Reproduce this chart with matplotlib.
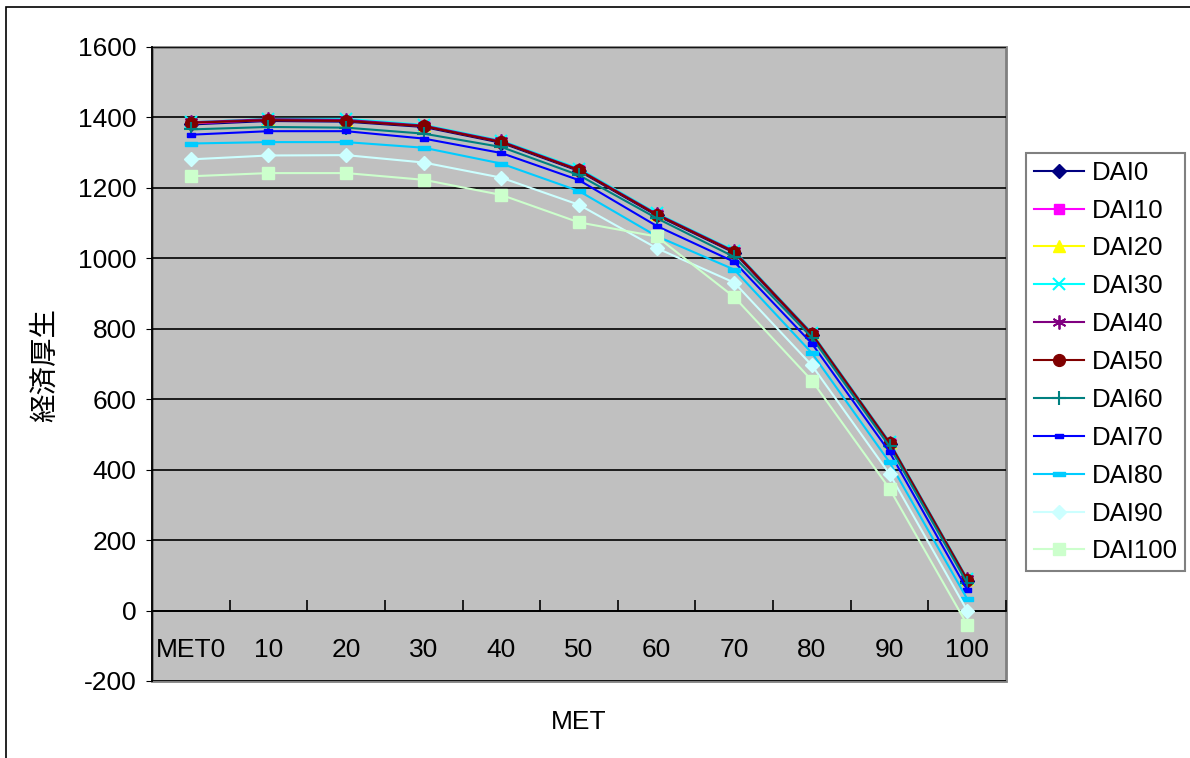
import matplotlib
matplotlib.use("Agg")
import matplotlib.pyplot as plt
from matplotlib.patches import Rectangle
from matplotlib.path import Path

categories = ["MET0", "10", "20", "30", "40", "50", "60", "70", "80", "90", "100"]
series_names = ["DAI0", "DAI10", "DAI20", "DAI30", "DAI40", "DAI50",
                "DAI60", "DAI70", "DAI80", "DAI90", "DAI100"]

dai0   = [1380, 1390, 1388, 1373, 1328, 1248, 1122, 1016, 782, 473, 85]
dai10  = [1383, 1393, 1391, 1376, 1331, 1251, 1125, 1019, 785, 476, 88]
dai20  = [1385, 1395, 1394, 1378, 1333, 1254, 1127, 1021, 787, 478, 90]
dai30  = [1386, 1396, 1396, 1379, 1334, 1255, 1128, 1022, 788, 479, 91]
dai40  = [1386, 1395, 1393, 1377, 1332, 1252, 1126, 1020, 786, 477, 89]
dai50  = [1385, 1392, 1390, 1375, 1330, 1250, 1124, 1018, 784, 475, 87]
dai60  = [1366, 1373, 1371, 1354, 1316, 1236, 1114, 1004, 775, 466, 78]
dai70  = [1351, 1361, 1361, 1340, 1299, 1222, 1092, 990, 758, 450, 59]
dai80  = [1326, 1330, 1330, 1314, 1269, 1191, 1063, 968, 731, 421, 33]
dai90  = [1281, 1292, 1293, 1272, 1229, 1152, 1029, 931, 696, 388, 0]
dai100 = [1233, 1242, 1242, 1223, 1180, 1102, 1062, 890, 653, 346, -40]

values = [dai0, dai10, dai20, dai30, dai40, dai50, dai60, dai70, dai80, dai90, dai100]

bar_marker = Path([(-1, -0.4), (1, -0.4), (1, 0.4), (-1, 0.4), (-1, -0.4)],
                  [Path.MOVETO, Path.LINETO, Path.LINETO, Path.LINETO, Path.CLOSEPOLY])

styles = [
    dict(color="#000080", marker="D", ms=7),
    dict(color="#FF00FF", marker="s", ms=7.5),
    dict(color="#FFFF00", marker="^", ms=8.5),
    dict(color="#00FFFF", marker="x", ms=8.5, mew=1.5),
    dict(color="#800080", marker=(6, 2, 0), ms=10, mew=1.3),
    dict(color="#800000", marker="o", ms=8.5),
    dict(color="#008080", marker="+", ms=10, mew=1.5),
    dict(color="#0000FF", marker=bar_marker, ms=6),
    dict(color="#00CCFF", marker=bar_marker, ms=8),
    dict(color="#CCFFFF", marker="D", ms=7.5),
    dict(color="#CCFFCC", marker="s", ms=8),
]

plt.rcParams['font.family'] = ['Liberation Sans', 'DejaVu Sans']
plt.rcParams['axes.unicode_minus'] = False

fig = plt.figure(figsize=(11.9, 7.58), dpi=100)
ax = fig.add_axes([152/1190, 1 - 681/758, 854/1190, 634/758])
ax.set_facecolor("#C0C0C0")

x = list(range(len(categories)))
for name, vals, st in zip(series_names, values, styles):
    ax.plot(x, vals, color=st["color"], lw=1.5, marker=st["marker"],
            ms=st["ms"], mew=st.get("mew", 1), mec=st["color"], mfc=st["color"],
            label=name, zorder=3)

ax.set_xlim(-0.5, len(categories) - 0.5)
ax.set_ylim(-200, 1600)
ax.set_yticks(range(-200, 1601, 200))
ax.yaxis.grid(True, color="black", lw=1.2)
ax.set_axisbelow(True)
ax.tick_params(axis="y", labelsize=19, length=4, direction="out", pad=7, colors="black")

# x axis at y=0
ax.spines["bottom"].set_position(("data", 0))
ax.spines["bottom"].set_color("black")
ax.spines["bottom"].set_linewidth(1.3)
ax.spines["left"].set_color("black")
ax.spines["left"].set_linewidth(1.3)
for s in ["top", "right"]:
    ax.spines[s].set_visible(False)
ax.add_patch(Rectangle((0, 0), 1, 1, transform=ax.transAxes, fill=False,
                       edgecolor="#808080", lw=2, clip_on=False, zorder=0.5))

ax.set_xticks([i - 0.5 for i in range(1, len(categories))] + [len(categories) - 0.5])
ax.set_xticklabels([])
ax.tick_params(axis="x", which="major", direction="in", length=8, width=1.2)
ax.set_xticks(x, minor=True)
ax.set_xticklabels(categories, minor=True)
ax.tick_params(axis="x", which="minor", length=0, labelsize=19, pad=20)

fig.text((152 + 1006) / 2 / 1190, 1 - 722 / 758, "MET", ha="center", va="center", fontsize=19)
fig.text(45 / 1190, 1 - 365 / 758, "経済厚生", rotation=90, ha="center", va="center",
         fontsize=20.5, family=["Noto Sans CJK JP", "DejaVu Sans"])

leg = fig.legend(loc="upper left", bbox_to_anchor=(1026/1190, 1 - 153/758),
                 fontsize=18.5, frameon=True, fancybox=False, edgecolor="#606060",
                 handlelength=1.95, handletextpad=0.3, labelspacing=0.54,
                 borderpad=0.3, borderaxespad=0)
leg.get_frame().set_linewidth(1.5)

fig.add_artist(Rectangle((6/1190, -0.01), 1.1, 1 - 7/758 + 0.01, transform=fig.transFigure,
                         fill=False, edgecolor="black", lw=1.2))

fig.savefig("out.png", dpi=100)
